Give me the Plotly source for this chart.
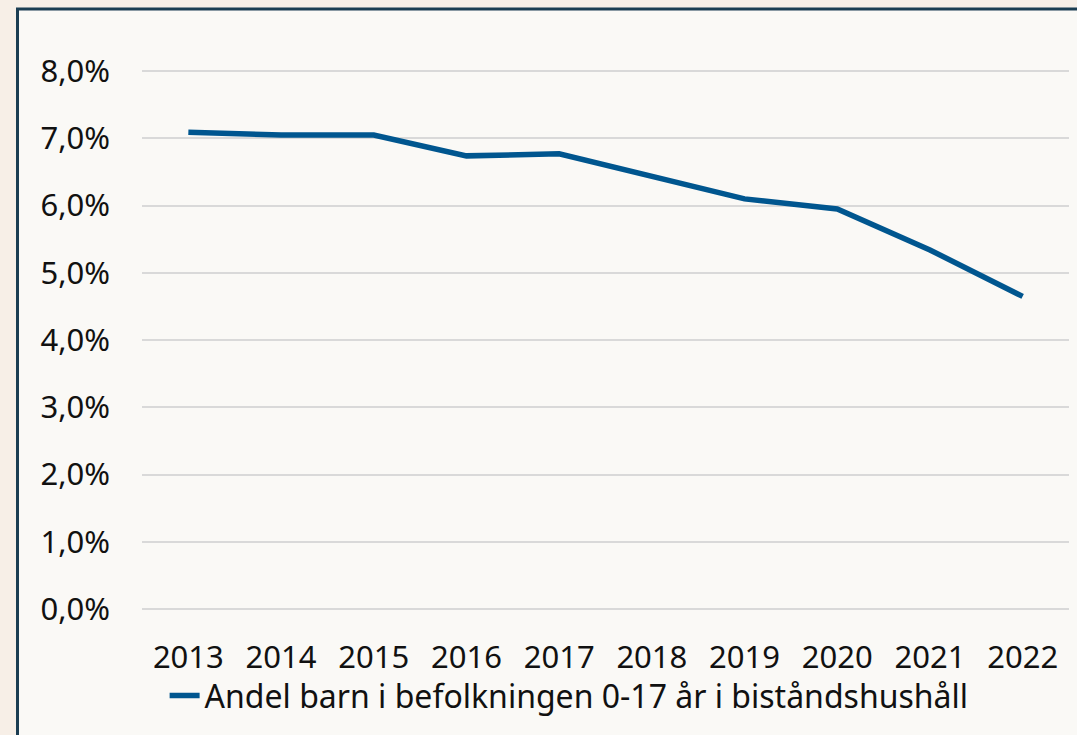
import plotly.graph_objects as go

years = ["2013", "2014", "2015", "2016", "2017", "2018", "2019", "2020", "2021", "2022"]
share = [7.09, 7.05, 7.05, 6.74, 6.77, 6.44, 6.10, 5.95, 5.34, 4.65]
series_name = "Andel barn i befolkningen 0-17 år i biståndshushåll"
y_ticks = [0, 1, 2, 3, 4, 5, 6, 7, 8]
y_labels = ["0,0%", "1,0%", "2,0%", "3,0%", "4,0%", "5,0%", "6,0%", "7,0%", "8,0%"]

FONT = "Noto Sans"
fig = go.Figure()
fig.add_trace(go.Scatter(
    x=years, y=share, mode="lines", name=series_name,
    line=dict(color="#00568f", width=5.5),
))

fig.update_layout(
    width=1077, height=735,
    margin=dict(l=142, r=8, t=51, b=124, autoexpand=False),
    paper_bgcolor="#f7efe7",
    plot_bgcolor="rgba(0,0,0,0)",
    font=dict(family=FONT, size=31, color="#111111"),
    showlegend=True,
    legend=dict(orientation="h", x=0.0244, xanchor="left", y=-0.102, yanchor="top",
                bgcolor="rgba(0,0,0,0)", font=dict(size=32)),
    shapes=[dict(type="rect", xref="paper", yref="paper",
                 x0=-0.1343, x1=1.2, y0=-0.5, y1=1.075,
                 fillcolor="#faf9f6", line=dict(color="#1b3d52", width=3),
                 layer="below")],
    xaxis=dict(type="category", range=[-0.5, 9.5], showgrid=False, zeroline=False,
               showline=False, ticks="", ticklabelstandoff=25),
    yaxis=dict(range=[-0.03, 8.3], tickvals=y_ticks, ticktext=y_labels,
               showgrid=True, gridcolor="#d9d9d9", gridwidth=2, zeroline=False,
               showline=False, ticks="", ticklabelstandoff=31),
)

fig.write_html("out.html", config={"displayModeBar": False},
               post_script="document.body.style.margin='0';document.body.style.background='#f7efe7';")
